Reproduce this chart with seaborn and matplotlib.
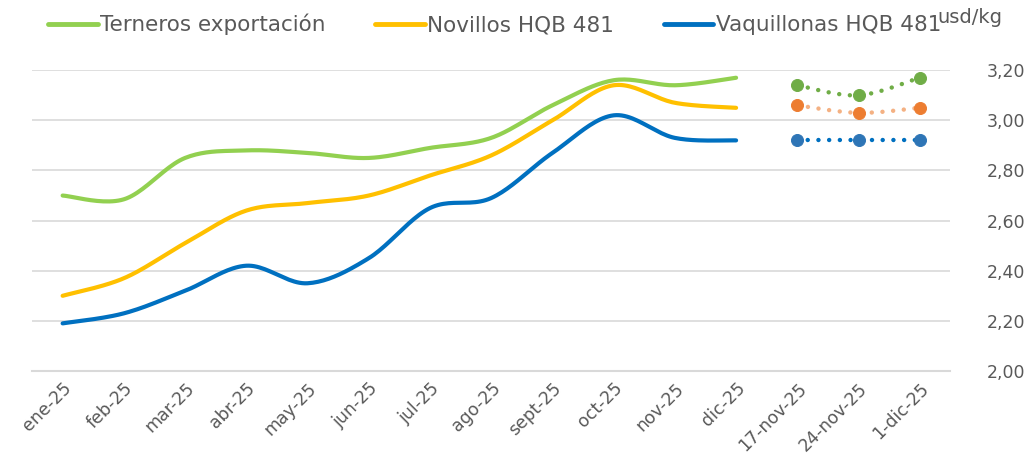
import numpy as np
import pandas as pd
import matplotlib
matplotlib.use("Agg")
import matplotlib.pyplot as plt
import seaborn as sns
from matplotlib.lines import Line2D

# categorías del eje x
meses = ["ene-25", "feb-25", "mar-25", "abr-25", "may-25", "jun-25", "jul-25",
         "ago-25", "sept-25", "oct-25", "nov-25", "dic-25"]
semanas = ["17-nov-25", "24-nov-25", "1-dic-25"]

# precios mensuales (usd/kg)
terneros = [2.70, 2.685, 2.85, 2.88, 2.87, 2.85, 2.89, 2.93, 3.06, 3.16, 3.14, 3.17]
novillos = [2.30, 2.37, 2.51, 2.64, 2.67, 2.70, 2.78, 2.86, 3.00, 3.14, 3.07, 3.05]
vaquillonas = [2.19, 2.23, 2.32, 2.42, 2.35, 2.45, 2.65, 2.69, 2.87, 3.02, 2.93, 2.92]

# precios semanales (usd/kg)
terneros_sem = [3.14, 3.10, 3.17]
novillos_sem = [3.06, 3.03, 3.05]
vaquillonas_sem = [2.92, 2.92, 2.92]

ticks_y = [2.00, 2.20, 2.40, 2.60, 2.80, 3.00, 3.20]

GRIS = "#595959"


def suavizar(x, y, n=24):
    """Curva suavizada tipo Excel (Bezier con puntos de control Catmull-Rom)."""
    x = np.asarray(x, float)
    y = np.asarray(y, float)
    xs, ys = [], []
    for i in range(len(x) - 1):
        i0 = max(i - 1, 0)
        i3 = min(i + 2, len(x) - 1)
        p0, p1, p2, p3 = [np.array([x[k], y[k]]) for k in (i0, i, i + 1, i3)]
        c1 = p1 + (p2 - p0) / 6
        c2 = p2 - (p3 - p1) / 6
        t = np.linspace(0, 1, n)[:, None]
        pts = ((1 - t) ** 3) * p1 + 3 * ((1 - t) ** 2) * t * c1 + 3 * (1 - t) * t ** 2 * c2 + t ** 3 * p2
        xs.extend(pts[:, 0])
        ys.extend(pts[:, 1])
    return np.array(xs), np.array(ys)


sns.set_theme(style="white")
plt.rcParams["font.family"] = ["DejaVu Sans"]

fig, ax = plt.subplots(figsize=(10.33, 4.62), dpi=100)
fig.subplots_adjust(left=0.031, right=0.92, bottom=0.197, top=0.848)

etiquetas = meses + semanas
pos_mes = np.arange(len(meses))
pos_sem = np.arange(len(meses), len(etiquetas))

mensuales = [
    (terneros, "#92D050", "Terneros exportación"),
    (novillos, "#FFC000", "Novillos HQB 481"),
    (vaquillonas, "#0070C0", "Vaquillonas HQB 481"),
]
for valores, color, nombre in mensuales:
    xs, ys = suavizar(pos_mes, valores)
    sns.lineplot(x=xs, y=ys, sort=False, estimator=None, color=color, lw=3.0,
                 ax=ax, solid_capstyle="round")

semanales = [
    (terneros_sem, "#70AD47", "#70AD47"),
    (novillos_sem, "#F4B183", "#ED7D31"),
    (vaquillonas_sem, "#0070C0", "#2E75B6"),
]
for valores, color_linea, color_punto in semanales:
    xs, ys = suavizar(pos_sem, valores)
    sns.lineplot(x=xs, y=ys, sort=False, estimator=None, color=color_linea, lw=3.2,
                 ax=ax, linestyle=(0, (0.01, 2.4)), dash_capstyle="round")
    sns.scatterplot(x=pos_sem, y=valores, color=color_punto, s=75, ax=ax,
                    edgecolor=color_punto, zorder=5, clip_on=False)

ax.set_xlim(-0.5, len(etiquetas) - 0.5)
ax.set_ylim(2.0, 3.2)
ax.set_xticks(np.arange(len(etiquetas)))
ax.set_xticklabels(etiquetas, rotation=45, ha="right", rotation_mode="anchor",
                   fontsize=12.5, color=GRIS)
ax.yaxis.tick_right()
ax.set_yticks(ticks_y)
ax.set_yticklabels([f"{v:.2f}".replace(".", ",") for v in ticks_y], fontsize=12.5, color=GRIS)
ax.tick_params(axis="y", length=0, pad=26)
ax.tick_params(axis="x", length=0, pad=6)
ax.grid(axis="y", color="#D9D9D9", lw=1.2)
ax.set_axisbelow(True)
for lado in ["top", "right", "left"]:
    ax.spines[lado].set_visible(False)
ax.spines["bottom"].set_color("#D9D9D9")
ax.spines["bottom"].set_linewidth(1.5)
ax.set_xlabel("")
ax.set_ylabel("")

manejadores = [Line2D([0], [0], color=c, lw=3.5, solid_capstyle="round") for _, c, _ in mensuales]
fig.legend(manejadores, [n for _, _, n in mensuales], loc="upper left",
           bbox_to_anchor=(0.0465, 0.97), ncol=3, frameon=False, fontsize=15.5,
           handlelength=2.3, handletextpad=0.12, columnspacing=2.3,
           borderpad=0, borderaxespad=0, labelcolor=GRIS)
fig.text(0.907, 0.962, "usd/kg", ha="left", va="center", fontsize=14, color=GRIS)

fig.savefig("out.png", dpi=100)
